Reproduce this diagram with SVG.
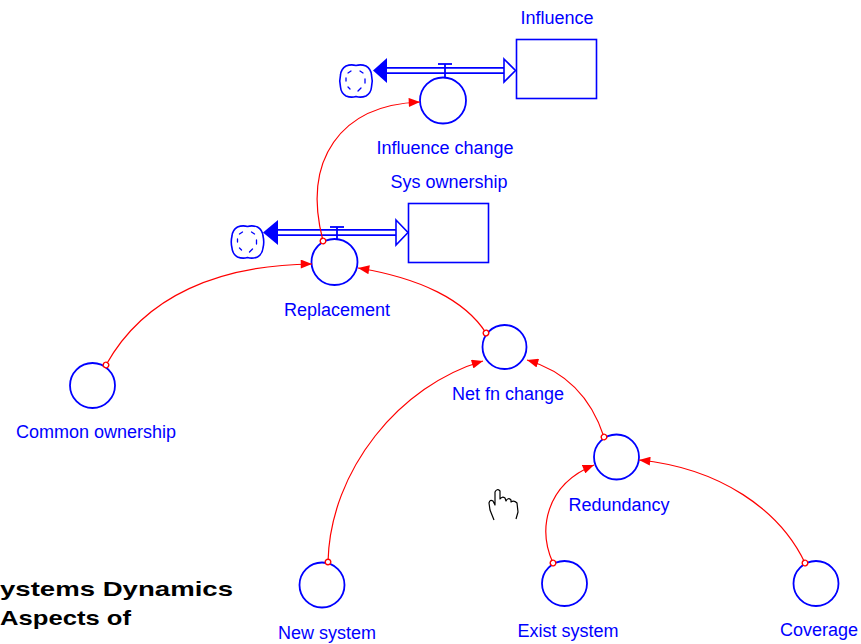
<svg xmlns="http://www.w3.org/2000/svg" width="861" height="644" viewBox="0 0 861 644">
  <style>
    .aux { fill: none; stroke: #0000ff; stroke-width: 1.8; }
    .stock { fill: #ffffff; stroke: #0000ff; stroke-width: 1.6; }
    .lbl { font-family: "Liberation Sans", Arial, sans-serif; font-size: 18px; fill: #0000ff; text-anchor: middle; }
    .link { fill: none; stroke: #ff0000; stroke-width: 1.2; marker-start: url(#src); marker-end: url(#head); }
    .pipe-out { stroke: #0000ff; stroke-width: 7; }
    .pipe-in { stroke: #ffffff; stroke-width: 3.6; }
    .cloud { fill: #ffffff; stroke: #0000ff; stroke-width: 1.6; }
    .cloud-mark { fill: none; stroke: #0000ff; stroke-width: 1.3; stroke-linecap: round; }
    .title { font-family: "Liberation Sans", Arial, sans-serif; font-weight: bold; font-size: 21px; fill: #000000; }
  </style>
  <defs>
    <marker id="head" viewBox="0 0 10 8" refX="10" refY="4" markerUnits="userSpaceOnUse" markerWidth="12" markerHeight="9" orient="auto">
      <path d="M0,0 L10,4 L0,8 z" fill="#ff0000"/>
    </marker>
    <marker id="src" viewBox="-4 -4 8 8" refX="0" refY="0" markerUnits="userSpaceOnUse" markerWidth="8" markerHeight="8" orient="auto">
      <circle r="2.8" fill="#ffffff" stroke="#ff0000" stroke-width="1.4"/>
    </marker>
    <g id="cloud-shape">
      <path class="cloud" d="M-10,-15 Q-5,-17 0,-15.5 Q5,-17 10,-15 Q15,-12 15.5,-6 Q17,0 15.5,6 Q15,12 10,15 Q5,17 0,15.5 Q-5,17 -10,15 Q-15,12 -15.5,6 Q-17,0 -15.5,-6 Q-15,-12 -10,-15 z"/>
      <path class="cloud-mark" d="M-8,-8 l3,-2 M4,-10 l3,2 M9,-2 l0,4 M5,7 l-3,3 M-6,8 l-2,-2 M-10,0 l0,-3"/>
    </g>
  </defs>

  <!-- flows (pipes, clouds, valves) -->
  <g id="flow-influence-change">
    <use href="#cloud-shape" x="356" y="81"/>
    <line class="pipe-out" x1="384" y1="70.5" x2="506" y2="70.5"/>
    <line class="pipe-in" x1="384" y1="70.5" x2="506" y2="70.5"/>
    <polygon points="373,70.5 387,58 387,83" fill="#0000ff"/>
    <polygon points="504,59 515.5,70.5 504,82" fill="#ffffff" stroke="#0000ff" stroke-width="1.6"/>
    <line x1="438" y1="64" x2="452" y2="64" stroke="#0000ff" stroke-width="1.8"/>
    <line x1="445" y1="64" x2="445" y2="78" stroke="#0000ff" stroke-width="1.8"/>
  </g>
  <g id="flow-replacement">
    <use href="#cloud-shape" x="247.5" y="242"/>
    <line class="pipe-out" x1="276" y1="232.5" x2="397" y2="232.5"/>
    <line class="pipe-in" x1="276" y1="232.5" x2="397" y2="232.5"/>
    <polygon points="263,232.5 278,220 278,245" fill="#0000ff"/>
    <polygon points="396,220 408,232.5 396,245" fill="#ffffff" stroke="#0000ff" stroke-width="1.6"/>
    <line x1="330" y1="227" x2="344" y2="227" stroke="#0000ff" stroke-width="1.8"/>
    <line x1="337" y1="227" x2="337" y2="240" stroke="#0000ff" stroke-width="1.8"/>
  </g>

  <!-- stocks -->
  <g id="influence">
    <rect class="stock" x="516.5" y="39.5" width="80" height="59"/>
    <text class="lbl" x="557" y="24">Influence</text>
  </g>
  <g id="sys-ownership">
    <rect class="stock" x="408.5" y="203.5" width="80" height="59"/>
    <text class="lbl" x="449" y="188">Sys ownership</text>
  </g>

  <!-- auxiliaries and rates -->
  <g id="influence-change">
    <circle class="aux" cx="443" cy="100.5" r="23"/>
    <text class="lbl" x="445" y="154">Influence change</text>
  </g>
  <g id="replacement">
    <circle class="aux" cx="334.5" cy="262" r="23"/>
    <text class="lbl" x="337" y="316">Replacement</text>
  </g>
  <g id="common-ownership">
    <circle class="aux" cx="92.5" cy="385.5" r="22.5"/>
    <text class="lbl" x="96" y="438">Common ownership</text>
  </g>
  <g id="net-fn-change">
    <circle class="aux" cx="504.5" cy="347" r="22"/>
    <text class="lbl" x="508" y="400">Net fn change</text>
  </g>
  <g id="redundancy">
    <circle class="aux" cx="616.5" cy="457" r="22.5"/>
    <text class="lbl" x="619" y="511">Redundancy</text>
  </g>
  <g id="new-system">
    <circle class="aux" cx="322" cy="585" r="22.5"/>
    <text class="lbl" x="327" y="639">New system</text>
  </g>
  <g id="exist-system">
    <circle class="aux" cx="564.5" cy="583.5" r="22.5"/>
    <text class="lbl" x="568" y="637">Exist system</text>
  </g>
  <g id="coverage">
    <circle class="aux" cx="816" cy="583.5" r="22.5"/>
    <text class="lbl" x="819" y="636">Coverage</text>
  </g>

  <!-- information links -->
  <g id="connectors">
    <path class="link" d="M323,241 C302,160 340,105 420,102"/>
    <path class="link" d="M106,365 C145,295 220,265 312,264"/>
    <path class="link" d="M486,333 C465,300 420,278 358,268"/>
    <path class="link" d="M604,437 C592,400 568,372 527,360"/>
    <path class="link" d="M328,562 C330,470 400,385 483,361"/>
    <path class="link" d="M553,563 C538,530 545,485 594,465"/>
    <path class="link" d="M805,563 C780,510 720,468 639,460"/>
  </g>

  <!-- pointer -->
  <g id="pointer" fill="#ffffff" stroke="#000000" stroke-width="1.2" stroke-linejoin="round">
    <path d="M494,520 L490,510 L489,503 Q490,499 493,501 L495,505 L495,492 Q497,488 500,491 L500,499 Q502,496 505,498 L506,501 Q508,497 511,500 L511,502 Q514,500 517,503 L518,512 L516,519"/>
  </g>

  <!-- caption -->
  <text class="title" x="0" y="596" textLength="233" lengthAdjust="spacingAndGlyphs">ystems Dynamics</text>
  <text class="title" x="0" y="625" textLength="131" lengthAdjust="spacingAndGlyphs">Aspects of</text>
</svg>
